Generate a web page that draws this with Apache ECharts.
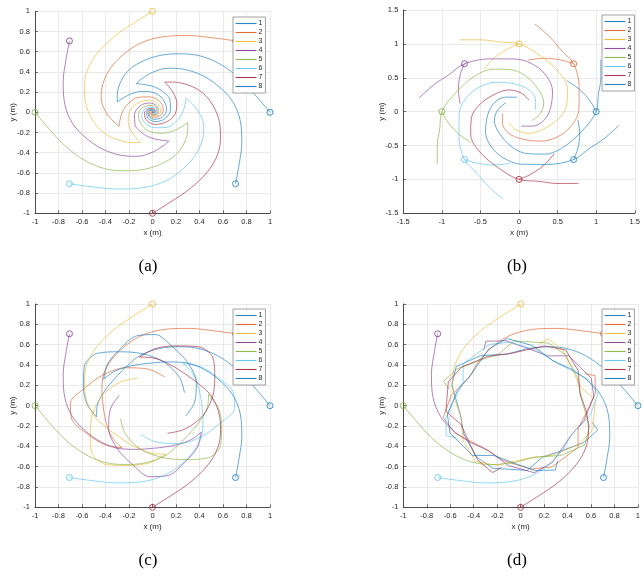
<!DOCTYPE html>
<html><head><meta charset="utf-8">
<script src="https://cdn.jsdelivr.net/npm/echarts@6/dist/echarts.min.js"></script>
<style>html,body{margin:0;padding:0;background:#fff;}#c{width:643px;height:577px;}</style>
</head><body><div id="c"></div>
<script>
const agentNames = ['1','2','3','4','5','6','7','8'];
const colors = ['#0072BD','#D95319','#EDB120','#7E2F8E','#77AC30','#4DBEEE','#A2142F','#0072BD'];
const startX = [1, 0.707, 0, -0.707, -1, -0.707, 0, 0.707];
const startY = [0, 0.707, 1, 0.707, 0, -0.707, -1, -0.707];
const ticksUnit = [-1,-0.8,-0.6,-0.4,-0.2,0,0.2,0.4,0.6,0.8,1];
const ticksWide = [-1.5,-1,-0.5,0,0.5,1,1.5];
const stepUnit = 0.2, stepWide = 0.5;
const panelLabels = ['(a)','(b)','(c)','(d)'];

// (a) outer arcs and inner spirals
const a1o = [[1.000,0.000],[0.886,0.156],[0.755,0.320],[0.583,0.472],[0.406,0.558],[0.234,0.579],[0.059,0.562],[-0.105,0.494],[-0.214,0.402],[-0.279,0.279],[-0.300,0.160],[-0.299,0.103]];
const a2o = [[0.707,0.707],[0.516,0.737],[0.308,0.760],[0.078,0.746],[-0.107,0.682],[-0.244,0.575],[-0.356,0.439],[-0.424,0.275],[-0.436,0.133],[-0.395,0.000],[-0.325,-0.099],[-0.284,-0.139]];
const a3o = [[0.000,1.000],[-0.156,0.886],[-0.320,0.755],[-0.472,0.583],[-0.558,0.406],[-0.579,0.234],[-0.562,0.059],[-0.494,-0.105],[-0.402,-0.214],[-0.279,-0.279],[-0.160,-0.300],[-0.103,-0.299]];
const a4o = [[-0.707,0.707],[-0.737,0.516],[-0.760,0.308],[-0.746,0.078],[-0.682,-0.107],[-0.575,-0.244],[-0.439,-0.356],[-0.275,-0.424],[-0.133,-0.436],[0.000,-0.395],[0.099,-0.325],[0.139,-0.284]];
const a5o = [[-1.000,0.000],[-0.886,-0.156],[-0.755,-0.320],[-0.583,-0.472],[-0.406,-0.558],[-0.234,-0.579],[-0.059,-0.562],[0.105,-0.494],[0.214,-0.402],[0.279,-0.279],[0.300,-0.160],[0.299,-0.103]];
const a6o = [[-0.707,-0.707],[-0.516,-0.737],[-0.308,-0.760],[-0.078,-0.746],[0.107,-0.682],[0.244,-0.575],[0.356,-0.439],[0.424,-0.275],[0.436,-0.133],[0.395,0.000],[0.325,0.099],[0.284,0.139]];
const a7o = [[0.000,-1.000],[0.156,-0.886],[0.320,-0.755],[0.472,-0.583],[0.558,-0.406],[0.579,-0.234],[0.562,-0.059],[0.494,0.105],[0.402,0.214],[0.279,0.279],[0.160,0.300],[0.103,0.299]];
const a8o = [[0.707,-0.707],[0.737,-0.516],[0.760,-0.308],[0.746,-0.078],[0.682,0.107],[0.575,0.244],[0.439,0.356],[0.275,0.424],[0.133,0.436],[0.000,0.395],[-0.099,0.325],[-0.139,0.284]];
const a1i = [[-0.299,0.103],[-0.248,0.143],[-0.178,0.184],[-0.092,0.207],[0.020,0.191],[0.091,0.125],[0.120,0.026],[0.082,-0.048],[0.012,-0.069],[-0.032,-0.038],[-0.037,0.000],[-0.017,0.020],[0.003,0.018],[0,0]];
const a2i = [[-0.284,-0.139],[-0.276,-0.074],[-0.256,0.004],[-0.211,0.081],[-0.121,0.149],[-0.024,0.153],[0.066,0.103],[0.092,0.024],[0.057,-0.040],[0.004,-0.049],[-0.026,-0.026],[-0.026,0.002],[-0.011,0.015],[0,0]];
const a3i = [[-0.103,-0.299],[-0.143,-0.248],[-0.184,-0.178],[-0.207,-0.092],[-0.191,0.020],[-0.125,0.091],[-0.026,0.120],[0.048,0.082],[0.069,0.012],[0.038,-0.032],[0.000,-0.037],[-0.020,-0.017],[-0.018,0.003],[0,0]];
const a4i = [[0.139,-0.284],[0.074,-0.276],[-0.004,-0.256],[-0.081,-0.211],[-0.149,-0.121],[-0.153,-0.024],[-0.103,0.066],[-0.024,0.092],[0.040,0.057],[0.049,0.004],[0.026,-0.026],[-0.002,-0.026],[-0.015,-0.011],[0,0]];
const a5i = [[0.299,-0.103],[0.248,-0.143],[0.178,-0.184],[0.092,-0.207],[-0.020,-0.191],[-0.091,-0.125],[-0.120,-0.026],[-0.082,0.048],[-0.012,0.069],[0.032,0.038],[0.037,0.000],[0.017,-0.020],[-0.003,-0.018],[0,0]];
const a6i = [[0.284,0.139],[0.276,0.074],[0.256,-0.004],[0.211,-0.081],[0.121,-0.149],[0.024,-0.153],[-0.066,-0.103],[-0.092,-0.024],[-0.057,0.040],[-0.004,0.049],[0.026,0.026],[0.026,-0.002],[0.011,-0.015],[0,0]];
const a7i = [[0.103,0.299],[0.143,0.248],[0.184,0.178],[0.207,0.092],[0.191,-0.020],[0.125,-0.091],[0.026,-0.120],[-0.048,-0.082],[-0.069,-0.012],[-0.038,0.032],[0.000,0.037],[0.020,0.017],[0.018,-0.003],[0,0]];
const a8i = [[-0.139,0.284],[-0.074,0.276],[0.004,0.256],[0.081,0.211],[0.149,0.121],[0.153,0.024],[0.103,-0.066],[0.024,-0.092],[-0.040,-0.057],[-0.049,-0.004],[-0.026,0.026],[0.002,0.026],[0.015,0.011],[0,0]];

// (b) long spirals and short arcs
const b1l = [[1.060,0.770],[1.060,0.495],[1.028,0.256],[1.000,0.000],[0.808,-0.294],[0.567,-0.529],[0.333,-0.627],[0.110,-0.620],[-0.092,-0.522],[-0.260,-0.310],[-0.320,-0.129],[-0.274,0.029],[-0.169,0.132]];
const b2l = [[0.205,1.294],[0.400,1.100],[0.546,0.908],[0.707,0.707],[0.779,0.363],[0.775,0.027],[0.679,-0.208],[0.516,-0.361],[0.304,-0.434],[0.035,-0.403],[-0.135,-0.317],[-0.214,-0.173],[-0.213,-0.026]];
const b3l = [[-0.770,1.060],[-0.495,1.060],[-0.256,1.028],[0.000,1.000],[0.294,0.808],[0.529,0.567],[0.627,0.333],[0.620,0.110],[0.522,-0.092],[0.310,-0.260],[0.129,-0.320],[-0.029,-0.274],[-0.132,-0.169]];
const b4l = [[-1.294,0.205],[-1.100,0.400],[-0.908,0.546],[-0.707,0.707],[-0.363,0.779],[-0.027,0.775],[0.208,0.679],[0.361,0.516],[0.434,0.304],[0.403,0.035],[0.317,-0.135],[0.173,-0.214],[0.026,-0.213]];
const b5l = [[-1.060,-0.770],[-1.060,-0.495],[-1.028,-0.256],[-1.000,0.000],[-0.808,0.294],[-0.567,0.529],[-0.333,0.627],[-0.110,0.620],[0.092,0.522],[0.260,0.310],[0.320,0.129],[0.274,-0.029],[0.169,-0.132]];
const b6l = [[-0.205,-1.294],[-0.400,-1.100],[-0.546,-0.908],[-0.707,-0.707],[-0.779,-0.363],[-0.775,-0.027],[-0.679,0.208],[-0.516,0.361],[-0.304,0.434],[-0.035,0.403],[0.135,0.317],[0.214,0.173],[0.213,0.026]];
const b7l = [[0.770,-1.060],[0.495,-1.060],[0.256,-1.028],[0.000,-1.000],[-0.294,-0.808],[-0.529,-0.567],[-0.627,-0.333],[-0.620,-0.110],[-0.522,0.092],[-0.310,0.260],[-0.129,0.320],[0.029,0.274],[0.132,0.169]];
const b8l = [[1.294,-0.205],[1.100,-0.400],[0.908,-0.546],[0.707,-0.707],[0.363,-0.779],[0.027,-0.775],[-0.208,-0.679],[-0.361,-0.516],[-0.434,-0.304],[-0.403,-0.035],[-0.317,0.135],[-0.173,0.214],[-0.026,0.213]];
const b1s = [[1.000,0.000],[0.923,0.154],[0.789,0.324],[0.621,0.456]];
const b2s = [[0.707,0.707],[0.544,0.762],[0.329,0.787],[0.117,0.762]];
const b3s = [[0.000,1.000],[-0.154,0.923],[-0.324,0.789],[-0.456,0.621]];
const b4s = [[-0.707,0.707],[-0.762,0.544],[-0.787,0.329],[-0.762,0.117]];
const b5s = [[-1.000,0.000],[-0.923,-0.154],[-0.789,-0.324],[-0.621,-0.456]];
const b6s = [[-0.707,-0.707],[-0.544,-0.762],[-0.329,-0.787],[-0.117,-0.762]];
const b7s = [[0.000,-1.000],[0.154,-0.923],[0.324,-0.789],[0.456,-0.621]];
const b8s = [[0.707,-0.707],[0.762,-0.544],[0.787,-0.329],[0.762,-0.117]];

// (c) approach arcs and return loops
const c1p = [[1.000,0.000],[0.886,0.156],[0.755,0.320],[0.583,0.472],[0.406,0.558],[0.234,0.579],[0.059,0.562],[-0.105,0.494],[-0.211,0.397],[-0.297,0.297],[-0.364,0.210],[-0.425,0.114],[-0.470,0.000],[-0.477,-0.110]];
const c2p = [[0.707,0.707],[0.516,0.737],[0.308,0.760],[0.078,0.746],[-0.107,0.682],[-0.244,0.575],[-0.356,0.439],[-0.424,0.275],[-0.430,0.132],[-0.420,0.000],[-0.406,-0.109],[-0.381,-0.220],[-0.332,-0.332],[-0.260,-0.415]];
const c3p = [[0.000,1.000],[-0.156,0.886],[-0.320,0.755],[-0.472,0.583],[-0.558,0.406],[-0.579,0.234],[-0.562,0.059],[-0.494,-0.105],[-0.397,-0.211],[-0.297,-0.297],[-0.210,-0.364],[-0.114,-0.425],[0.000,-0.470],[0.110,-0.477]];
const c4p = [[-0.707,0.707],[-0.737,0.516],[-0.760,0.308],[-0.746,0.078],[-0.682,-0.107],[-0.575,-0.244],[-0.439,-0.356],[-0.275,-0.424],[-0.132,-0.430],[0.000,-0.420],[0.109,-0.406],[0.220,-0.381],[0.332,-0.332],[0.415,-0.260]];
const c5p = [[-1.000,0.000],[-0.886,-0.156],[-0.755,-0.320],[-0.583,-0.472],[-0.406,-0.558],[-0.234,-0.579],[-0.059,-0.562],[0.105,-0.494],[0.211,-0.397],[0.297,-0.297],[0.364,-0.210],[0.425,-0.114],[0.470,0.000],[0.477,0.110]];
const c6p = [[-0.707,-0.707],[-0.516,-0.737],[-0.308,-0.760],[-0.078,-0.746],[0.107,-0.682],[0.244,-0.575],[0.356,-0.439],[0.424,-0.275],[0.430,-0.132],[0.420,0.000],[0.406,0.109],[0.381,0.220],[0.332,0.332],[0.260,0.415]];
const c7p = [[0.000,-1.000],[0.156,-0.886],[0.320,-0.755],[0.472,-0.583],[0.558,-0.406],[0.579,-0.234],[0.562,-0.059],[0.494,0.105],[0.397,0.211],[0.297,0.297],[0.210,0.364],[0.114,0.425],[0.000,0.470],[-0.110,0.477]];
const c8p = [[0.707,-0.707],[0.737,-0.516],[0.760,-0.308],[0.746,-0.078],[0.682,0.107],[0.575,0.244],[0.439,0.356],[0.275,0.424],[0.132,0.430],[0.000,0.420],[-0.109,0.406],[-0.220,0.381],[-0.332,0.332],[-0.415,0.260]];
const c1q = [[-0.477,-0.110],[-0.560,0.020],[-0.588,0.180],[-0.580,0.391],[-0.477,0.512],[-0.281,0.530],[-0.090,0.512],[0.099,0.429],[0.231,0.276],[0.272,0.127]];
const c2q = [[-0.260,-0.415],[-0.410,-0.382],[-0.543,-0.288],[-0.687,-0.134],[-0.699,0.025],[-0.573,0.176],[-0.426,0.298],[-0.233,0.373],[-0.032,0.358],[0.103,0.282]];
const c3q = [[0.110,-0.477],[-0.020,-0.560],[-0.180,-0.588],[-0.391,-0.580],[-0.512,-0.477],[-0.530,-0.281],[-0.512,-0.090],[-0.429,0.099],[-0.276,0.231],[-0.127,0.272]];
const c4q = [[0.415,-0.260],[0.382,-0.410],[0.288,-0.543],[0.134,-0.687],[-0.025,-0.699],[-0.176,-0.573],[-0.298,-0.426],[-0.373,-0.233],[-0.358,-0.032],[-0.282,0.103]];
const c5q = [[0.477,0.110],[0.560,-0.020],[0.588,-0.180],[0.580,-0.391],[0.477,-0.512],[0.281,-0.530],[0.090,-0.512],[-0.099,-0.429],[-0.231,-0.276],[-0.272,-0.127]];
const c6q = [[0.260,0.415],[0.410,0.382],[0.543,0.288],[0.687,0.134],[0.699,-0.025],[0.573,-0.176],[0.426,-0.298],[0.233,-0.373],[0.032,-0.358],[-0.103,-0.282]];
const c7q = [[-0.110,0.477],[0.020,0.560],[0.180,0.588],[0.391,0.580],[0.512,0.477],[0.530,0.281],[0.512,0.090],[0.429,-0.099],[0.276,-0.231],[0.127,-0.272]];
const c8q = [[-0.415,0.260],[-0.382,0.410],[-0.288,0.543],[-0.134,0.687],[0.025,0.699],[0.176,0.573],[0.298,0.426],[0.373,0.233],[0.358,0.032],[0.282,-0.103]];

// (d) ring circulation (approach arcs are the first part of the (a) arcs)
const d1r = [[0.059,0.562],[-0.117,0.507],[-0.344,0.491],[-0.549,0.384],[-0.587,0.202],[-0.514,-0.081],[-0.485,-0.280],[-0.379,-0.503],[-0.236,-0.616],[0.056,-0.637],[0.185,-0.508],[0.366,-0.437],[0.539,-0.363],[0.658,-0.239],[0.609,-0.163]];
const d2r = [[-0.356,0.439],[-0.441,0.276],[-0.590,0.104],[-0.660,-0.117],[-0.558,-0.272],[-0.306,-0.421],[-0.145,-0.541],[0.088,-0.624],[0.269,-0.602],[0.490,-0.411],[0.490,-0.228],[0.568,-0.050],[0.638,0.124],[0.634,0.296],[0.546,0.315]];
const d3r = [[-0.562,0.059],[-0.507,-0.117],[-0.491,-0.344],[-0.384,-0.549],[-0.202,-0.587],[0.081,-0.514],[0.280,-0.485],[0.503,-0.379],[0.616,-0.236],[0.637,0.056],[0.508,0.185],[0.437,0.366],[0.363,0.539],[0.239,0.658],[0.163,0.609]];
const d4r = [[-0.439,-0.356],[-0.276,-0.441],[-0.104,-0.590],[0.117,-0.660],[0.272,-0.558],[0.421,-0.306],[0.541,-0.145],[0.624,0.088],[0.602,0.269],[0.411,0.490],[0.228,0.490],[0.050,0.568],[-0.124,0.638],[-0.296,0.634],[-0.315,0.546]];
const d5r = [[-0.059,-0.562],[0.117,-0.507],[0.344,-0.491],[0.549,-0.384],[0.587,-0.202],[0.514,0.081],[0.485,0.280],[0.379,0.503],[0.236,0.616],[-0.056,0.637],[-0.185,0.508],[-0.366,0.437],[-0.539,0.363],[-0.658,0.239],[-0.609,0.163]];
const d6r = [[0.356,-0.439],[0.441,-0.276],[0.590,-0.104],[0.660,0.117],[0.558,0.272],[0.306,0.421],[0.145,0.541],[-0.088,0.624],[-0.269,0.602],[-0.490,0.411],[-0.490,0.228],[-0.568,0.050],[-0.638,-0.124],[-0.634,-0.296],[-0.546,-0.315]];
const d7r = [[0.562,-0.059],[0.507,0.117],[0.491,0.344],[0.384,0.549],[0.202,0.587],[-0.081,0.514],[-0.280,0.485],[-0.503,0.379],[-0.616,0.236],[-0.637,-0.056],[-0.508,-0.185],[-0.437,-0.366],[-0.363,-0.539],[-0.239,-0.658],[-0.163,-0.609]];
const d8r = [[0.439,0.356],[0.276,0.441],[0.104,0.590],[-0.117,0.660],[-0.272,0.558],[-0.421,0.306],[-0.541,0.145],[-0.624,-0.088],[-0.602,-0.269],[-0.411,-0.490],[-0.228,-0.490],[-0.050,-0.568],[0.124,-0.638],[0.296,-0.634],[0.315,-0.546]];

const aOuter = [a1o,a2o,a3o,a4o,a5o,a6o,a7o,a8o];
const aInner = [a1i,a2i,a3i,a4i,a5i,a6i,a7i,a8i];
const bLong = [b1l,b2l,b3l,b4l,b5l,b6l,b7l,b8l];
const bShort = [b1s,b2s,b3s,b4s,b5s,b6s,b7s,b8s];
const cOut = [c1p,c2p,c3p,c4p,c5p,c6p,c7p,c8p];
const cBack = [c1q,c2q,c3q,c4q,c5q,c6q,c7q,c8q];
const dRing = [d1r,d2r,d3r,d4r,d5r,d6r,d7r,d8r];

const AX = '#4a4a4a', TXT = '#262626', GRIDC = '#e4e4e4';
const FONT = 'Liberation Sans, Arial, sans-serif';
const grids = [
  {left:35, top:11.3, width:235, height:202},
  {left:403.3, top:10, width:235, height:203.3},
  {left:35, top:304, width:235, height:203.3},
  {left:403.3, top:304, width:235, height:203.3}
];
function fmt(v){ return String(Math.round(v*100)/100); }
function axis(gi, ticks, step, name, isX){
  return {
    type:'value', gridIndex:gi, min:ticks[0], max:ticks[ticks.length-1], interval: step,
    name:name, nameLocation:'middle', nameGap: isX ? 15 : 18, nameMoveOverlap:false,
    nameTextStyle:{fontSize:8, color:TXT, fontFamily:FONT},
    axisLine:{onZero:false, lineStyle:{color:AX, width:1}},
    axisTick:{inside:true, length:3, lineStyle:{color:AX, width:0.8}},
    axisLabel:{fontSize:7.5, color:TXT, fontFamily:FONT, margin:5, formatter:fmt},
    splitLine:{show:true, lineStyle:{color:GRIDC, width:0.8}}
  };
}
const xAxes = [axis(0,ticksUnit,stepUnit,'x (m)',true), axis(1,ticksWide,stepWide,'x (m)',true), axis(2,ticksUnit,stepUnit,'x (m)',true), axis(3,ticksUnit,stepUnit,'x (m)',true)];
const yAxes = [axis(0,ticksUnit,stepUnit,'y (m)',false), axis(1,ticksWide,stepWide,'y (m)',false), axis(2,ticksUnit,stepUnit,'y (m)',false), axis(3,ticksUnit,stepUnit,'y (m)',false)];

const series = [];
function addLine(gi, k, data, smooth){
  series.push({
    type:'line', name:agentNames[k], xAxisIndex:gi, yAxisIndex:gi,
    data:data, smooth:smooth, symbol:'none', showSymbol:false, silent:true, z:2,
    lineStyle:{color:colors[k], width:0.8, opacity:0.75},
    itemStyle:{color:colors[k]}, emphasis:{disabled:true}, animation:false
  });
}
for (let k=0;k<8;k++){ addLine(0,k,aOuter[k],0.35); addLine(0,k,aInner[k],0.35); }
for (let k=0;k<8;k++){ addLine(1,k,bLong[k],0.35); addLine(1,k,bShort[k],0.35); }
for (let k=0;k<8;k++){ addLine(2,k,cOut[k],0.35); addLine(2,k,cBack[k],0.3); }
for (let k=0;k<8;k++){ addLine(3,k,aOuter[k].slice(0,7),0.35); addLine(3,k,dRing[k],false); }
for (let gi=0; gi<4; gi++){
  series.push({
    type:'scatter', name:'start', xAxisIndex:gi, yAxisIndex:gi, silent:true,
    symbol:'circle', symbolSize:6, z:3, animation:false,
    data: startX.map((x,k)=>({value:[x,startY[k]], itemStyle:{color:'rgba(255,255,255,0)', borderColor:colors[k], borderWidth:0.9, opacity:0.85}}))
  });
}
const legendPos = [[233,17],[602,15],[233,309],[602,309]];
const legends = legendPos.map(p=>({
  data:agentNames, orient:'vertical', left:p[0], top:p[1], z:10,
  itemWidth:21, itemHeight:7, itemGap:2, padding:[3,3,3,2],
  itemStyle:{opacity:0}, lineStyle:{color:'inherit', width:1.1, opacity:0.85},
  textStyle:{fontSize:7, color:TXT, fontFamily:FONT, padding:[0,0,0,-3]},
  borderColor:'#8c8c8c', borderWidth:0.8, backgroundColor:'#fff', selectedMode:false
}));
const labelPos = [[148,267],[517,267],[148,561],[517,561]];
const graphics = labelPos.map((p,i)=>({
  type:'text', x:p[0], y:p[1],
  style:{text:panelLabels[i], fontSize:17, fontFamily:'Liberation Serif, DejaVu Serif, serif', fill:'#000', align:'center', verticalAlign:'middle'}
}));

const chart = echarts.init(document.getElementById('c'), null, {renderer:'canvas'});
chart.setOption({
  animation:false, backgroundColor:'#fff',
  grid:grids, xAxis:xAxes, yAxis:yAxes, legend:legends, series:series, graphic:graphics
});
</script></body></html>
